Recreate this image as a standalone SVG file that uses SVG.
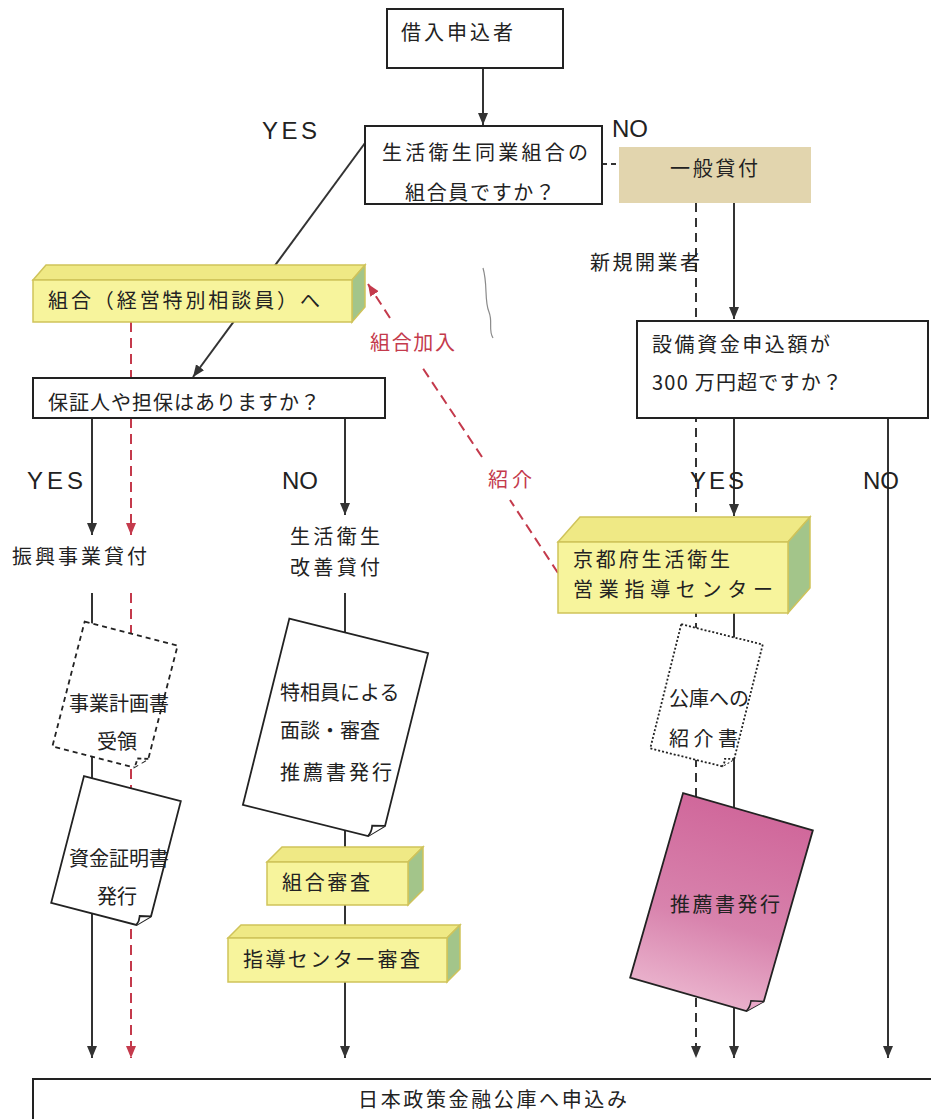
<svg xmlns="http://www.w3.org/2000/svg" width="931" height="1119" viewBox="0 0 931 1119">
<defs>
<style>
.t{font-family:"Noto Sans CJK JP","Noto Sans",sans-serif;fill:#222;font-size:20px}
.e{font-family:"Liberation Sans",Arial,sans-serif;fill:#222;font-size:24px}
.red{fill:#c43a4c}
.box{fill:#fff;stroke:#222;stroke-width:2}
.ln{fill:none;stroke:#333;stroke-width:2}
.dl{fill:none;stroke:#333;stroke-width:2;stroke-dasharray:9 6}
.rl{fill:none;stroke:#c43a4c;stroke-width:2;stroke-dasharray:10 6}
.front{fill:#f7f49c;stroke:#cfc35a;stroke-width:1.5}
.top{fill:#efe985;stroke:#cfc35a;stroke-width:1.5}
.side{fill:#a3c58a;stroke:#cfc35a;stroke-width:1.5}
.doc{fill:#fff;stroke:#222;stroke-width:1.8}
</style>
<marker id="ab" markerUnits="userSpaceOnUse" markerWidth="12" markerHeight="12" refX="12" refY="6" orient="auto"><path d="M0,1 L12,6 L0,11 Z" fill="#333"/></marker>
<marker id="ar" markerUnits="userSpaceOnUse" markerWidth="12" markerHeight="12" refX="12" refY="6" orient="auto"><path d="M0,1 L12,6 L0,11 Z" fill="#c43a4c"/></marker>
<linearGradient id="pink" x1="0" y1="0" x2="0" y2="1"><stop offset="0" stop-color="#d0689b"/><stop offset="0.6" stop-color="#d883ad"/><stop offset="1" stop-color="#e9b0cb"/></linearGradient>
</defs>
<rect width="931" height="1119" fill="#fff"/>

<g id="connectors">
<path class="ln" d="M483,68 V125" marker-end="url(#ab)"/>
<path class="ln" d="M365,143 L193,377" marker-end="url(#ab)"/>
<path class="ln" d="M602,164 H620" stroke-dasharray="5 4"/>
<path class="ln" d="M734,203 V319" marker-end="url(#ab)"/>
<path class="dl" d="M696,203 V1058" marker-end="url(#ab)"/>
<path class="ln" d="M92,418 V535" marker-end="url(#ab)"/>
<path class="ln" d="M92,593 V1058" marker-end="url(#ab)"/>
<path class="rl" d="M131,322 V535" marker-end="url(#ar)"/>
<path class="rl" d="M131,593 V1058" marker-end="url(#ar)"/>
<path class="ln" d="M345,418 V515" marker-end="url(#ab)"/>
<path class="ln" d="M345,593 V1058" marker-end="url(#ab)"/>
<path class="ln" d="M734,418 V516" marker-end="url(#ab)"/>
<path class="ln" d="M734,613 V1058" marker-end="url(#ab)"/>
<path class="ln" d="M888,418 V1058" marker-end="url(#ab)"/>
<path class="rl" d="M558,573 L510,500"/>
<path class="rl" d="M482,457 L422,367"/>
<path class="rl" d="M390,318 L368,284" marker-end="url(#ar)"/>
</g>

<path d="M483,268 C488,285 484,300 489,312 C493,322 488,330 493,338" fill="none" stroke="#8a8a8a" stroke-width="1.2"/>

<g id="applicant">
<rect class="box" x="387" y="9" width="176" height="59"/>
<text class="t" x="401" y="40" font-size="21" textLength="112" lengthAdjust="spacing">借入申込者</text>
</g>

<g id="member-question">
<rect class="box" x="365" y="126" width="237" height="78"/>
<text class="t" x="382" y="160" font-size="21" textLength="206" lengthAdjust="spacing">生活衛生同業組合の</text>
<text class="t" x="405" y="200" font-size="21" textLength="150" lengthAdjust="spacing">組合員ですか？</text>
</g>

<g id="labels">
<text class="e" x="262" y="139" textLength="55" lengthAdjust="spacing">YES</text>
<text class="e" x="612" y="137">NO</text>
<text class="t" x="590" y="270" font-size="19" textLength="110" lengthAdjust="spacing">新規開業者</text>
<text class="t red" x="370" y="350" font-size="19" textLength="85" lengthAdjust="spacing">組合加入</text>
<text class="t red" x="488" y="487" font-size="19" textLength="44" lengthAdjust="spacing">紹介</text>
<text class="e" x="27" y="489" textLength="56" lengthAdjust="spacing">YES</text>
<text class="e" x="282" y="489">NO</text>
<text class="e" x="690" y="489" textLength="54" lengthAdjust="spacing">YES</text>
<text class="e" x="863" y="489">NO</text>
</g>

<g id="general-loan">
<rect x="619" y="147" width="192" height="56" fill="#e2d5ae"/>
<text class="t" x="670" y="176" textLength="88" lengthAdjust="spacing">一般貸付</text>
</g>

<g id="union-box">
<polygon class="top" points="33,280 46,265 365,265 352,280"/>
<polygon class="side" points="352,280 365,265 365,307 352,322"/>
<rect class="front" x="33" y="280" width="319" height="42"/>
<text class="t" x="48" y="308" textLength="272" lengthAdjust="spacing">組合（経営特別相談員）へ</text>
</g>

<g id="guarantor-question">
<rect class="box" x="33" y="378" width="352" height="40"/>
<text class="t" x="48" y="410" textLength="272" lengthAdjust="spacing">保証人や担保はありますか？</text>
</g>

<g id="equipment-question">
<rect class="box" x="637" y="321" width="291" height="97"/>
<text class="t" x="652" y="352" font-size="21" textLength="178" lengthAdjust="spacing">設備資金申込額が</text>
<text class="t" x="652" y="390" font-size="21" textLength="190" lengthAdjust="spacing">300 万円超ですか？</text>
</g>

<g id="shinko-loan">
<text class="t" x="12" y="564" textLength="135" lengthAdjust="spacing">振興事業貸付</text>
</g>

<g id="kaizen-loan">
<text class="t" x="290" y="544" textLength="90" lengthAdjust="spacing">生活衛生</text>
<text class="t" x="290" y="575" textLength="90" lengthAdjust="spacing">改善貸付</text>
</g>

<g id="center-box">
<polygon class="top" points="558,542 580,517 810,517 788,542"/>
<polygon class="side" points="788,542 810,517 810,588 788,613"/>
<rect class="front" x="558" y="542" width="230" height="71"/>
<text class="t" x="573" y="567" font-size="21" textLength="157" lengthAdjust="spacing">京都府生活衛生</text>
<text class="t" x="573" y="597" font-size="21" textLength="200" lengthAdjust="spacing">営業指導センター</text>
</g>

<g id="doc-plan">
<g transform="translate(115,696) rotate(14.5)">
<path class="doc" d="M-48,-64.5 H48 V52.5 L36,64.5 H-48 Z" stroke-dasharray="5 4"/>
<path class="doc" d="M48,52.5 L37,55 Q38,60 36,64.5" stroke-dasharray="4 3"/>
</g>
<text class="t" x="69" y="711" font-size="17">事業計画書</text>
<text class="t" x="97" y="749" font-size="17">受領</text>
</g>

<g id="doc-fund">
<g transform="translate(116,852) rotate(14.5)">
<path class="doc" d="M-50,-65.5 H50 V53.5 L38,65.5 H-50 Z"/>
<path class="doc" d="M50,53.5 L39,56 Q40,61 38,65.5"/>
</g>
<text class="t" x="69" y="866" font-size="17">資金証明書</text>
<text class="t" x="97" y="904" font-size="17">発行</text>
</g>

<g id="doc-interview">
<g transform="translate(335.5,729) rotate(14)">
<path class="doc" d="M-71.5,-96 H71.5 V82 L57.5,96 H-71.5 Z"/>
<path class="doc" d="M71.5,82 L59,85 Q60,91 57.5,96"/>
</g>
<text class="t" x="280" y="700" font-size="17">特相員による</text>
<text class="t" x="280" y="738" font-size="17">面談・審査</text>
<text class="t" x="280" y="780" font-size="21" textLength="112" lengthAdjust="spacing">推薦書発行</text>
</g>

<g id="union-review">
<polygon class="top" points="267,862 282,847 423,847 408,862"/>
<polygon class="side" points="408,862 423,847 423,890 408,905"/>
<rect class="front" x="267" y="862" width="141" height="43"/>
<text class="t" x="282" y="890" font-size="21" textLength="88" lengthAdjust="spacing">組合審査</text>
</g>

<g id="center-review">
<polygon class="top" points="228,938 241,925 460,925 447,938"/>
<polygon class="side" points="447,938 460,925 460,969 447,982"/>
<rect class="front" x="228" y="938" width="219" height="44"/>
<text class="t" x="243" y="967" font-size="21" textLength="177" lengthAdjust="spacing">指導センター審査</text>
</g>

<g id="doc-intro">
<g transform="translate(706.5,696.5) rotate(14)">
<path class="doc" d="M-42,-64 H42 V54 L32,64 H-42 Z" stroke-width="1.3" stroke-dasharray="2 2"/>
<path class="doc" d="M42,54 L33,56 Q34,60 32,64" stroke-width="1.3" stroke-dasharray="2 2"/>
</g>
<text class="t" x="669" y="706" font-size="18">公庫への</text>
<text class="t" x="669" y="746" font-size="17" textLength="69" lengthAdjust="spacing">紹介書</text>
</g>

<g id="doc-recommend">
<g transform="translate(721.5,904) rotate(16)">
<path d="M-67.5,-96 H67.5 V82 L53.5,96 H-67.5 Z" fill="url(#pink)" stroke="#222" stroke-width="1.8"/>
<path d="M67.5,82 L55,85 Q56,91 53.5,96" fill="#e9a8c8" stroke="#222" stroke-width="1.5"/>
</g>
<text class="t" x="670" y="912" font-size="21" textLength="110" lengthAdjust="spacing">推薦書発行</text>
</g>

<g id="apply">
<rect class="box" x="33" y="1079" width="910" height="60"/>
<text class="t" x="358" y="1107" textLength="269" lengthAdjust="spacing">日本政策金融公庫へ申込み</text>
</g>
</svg>
